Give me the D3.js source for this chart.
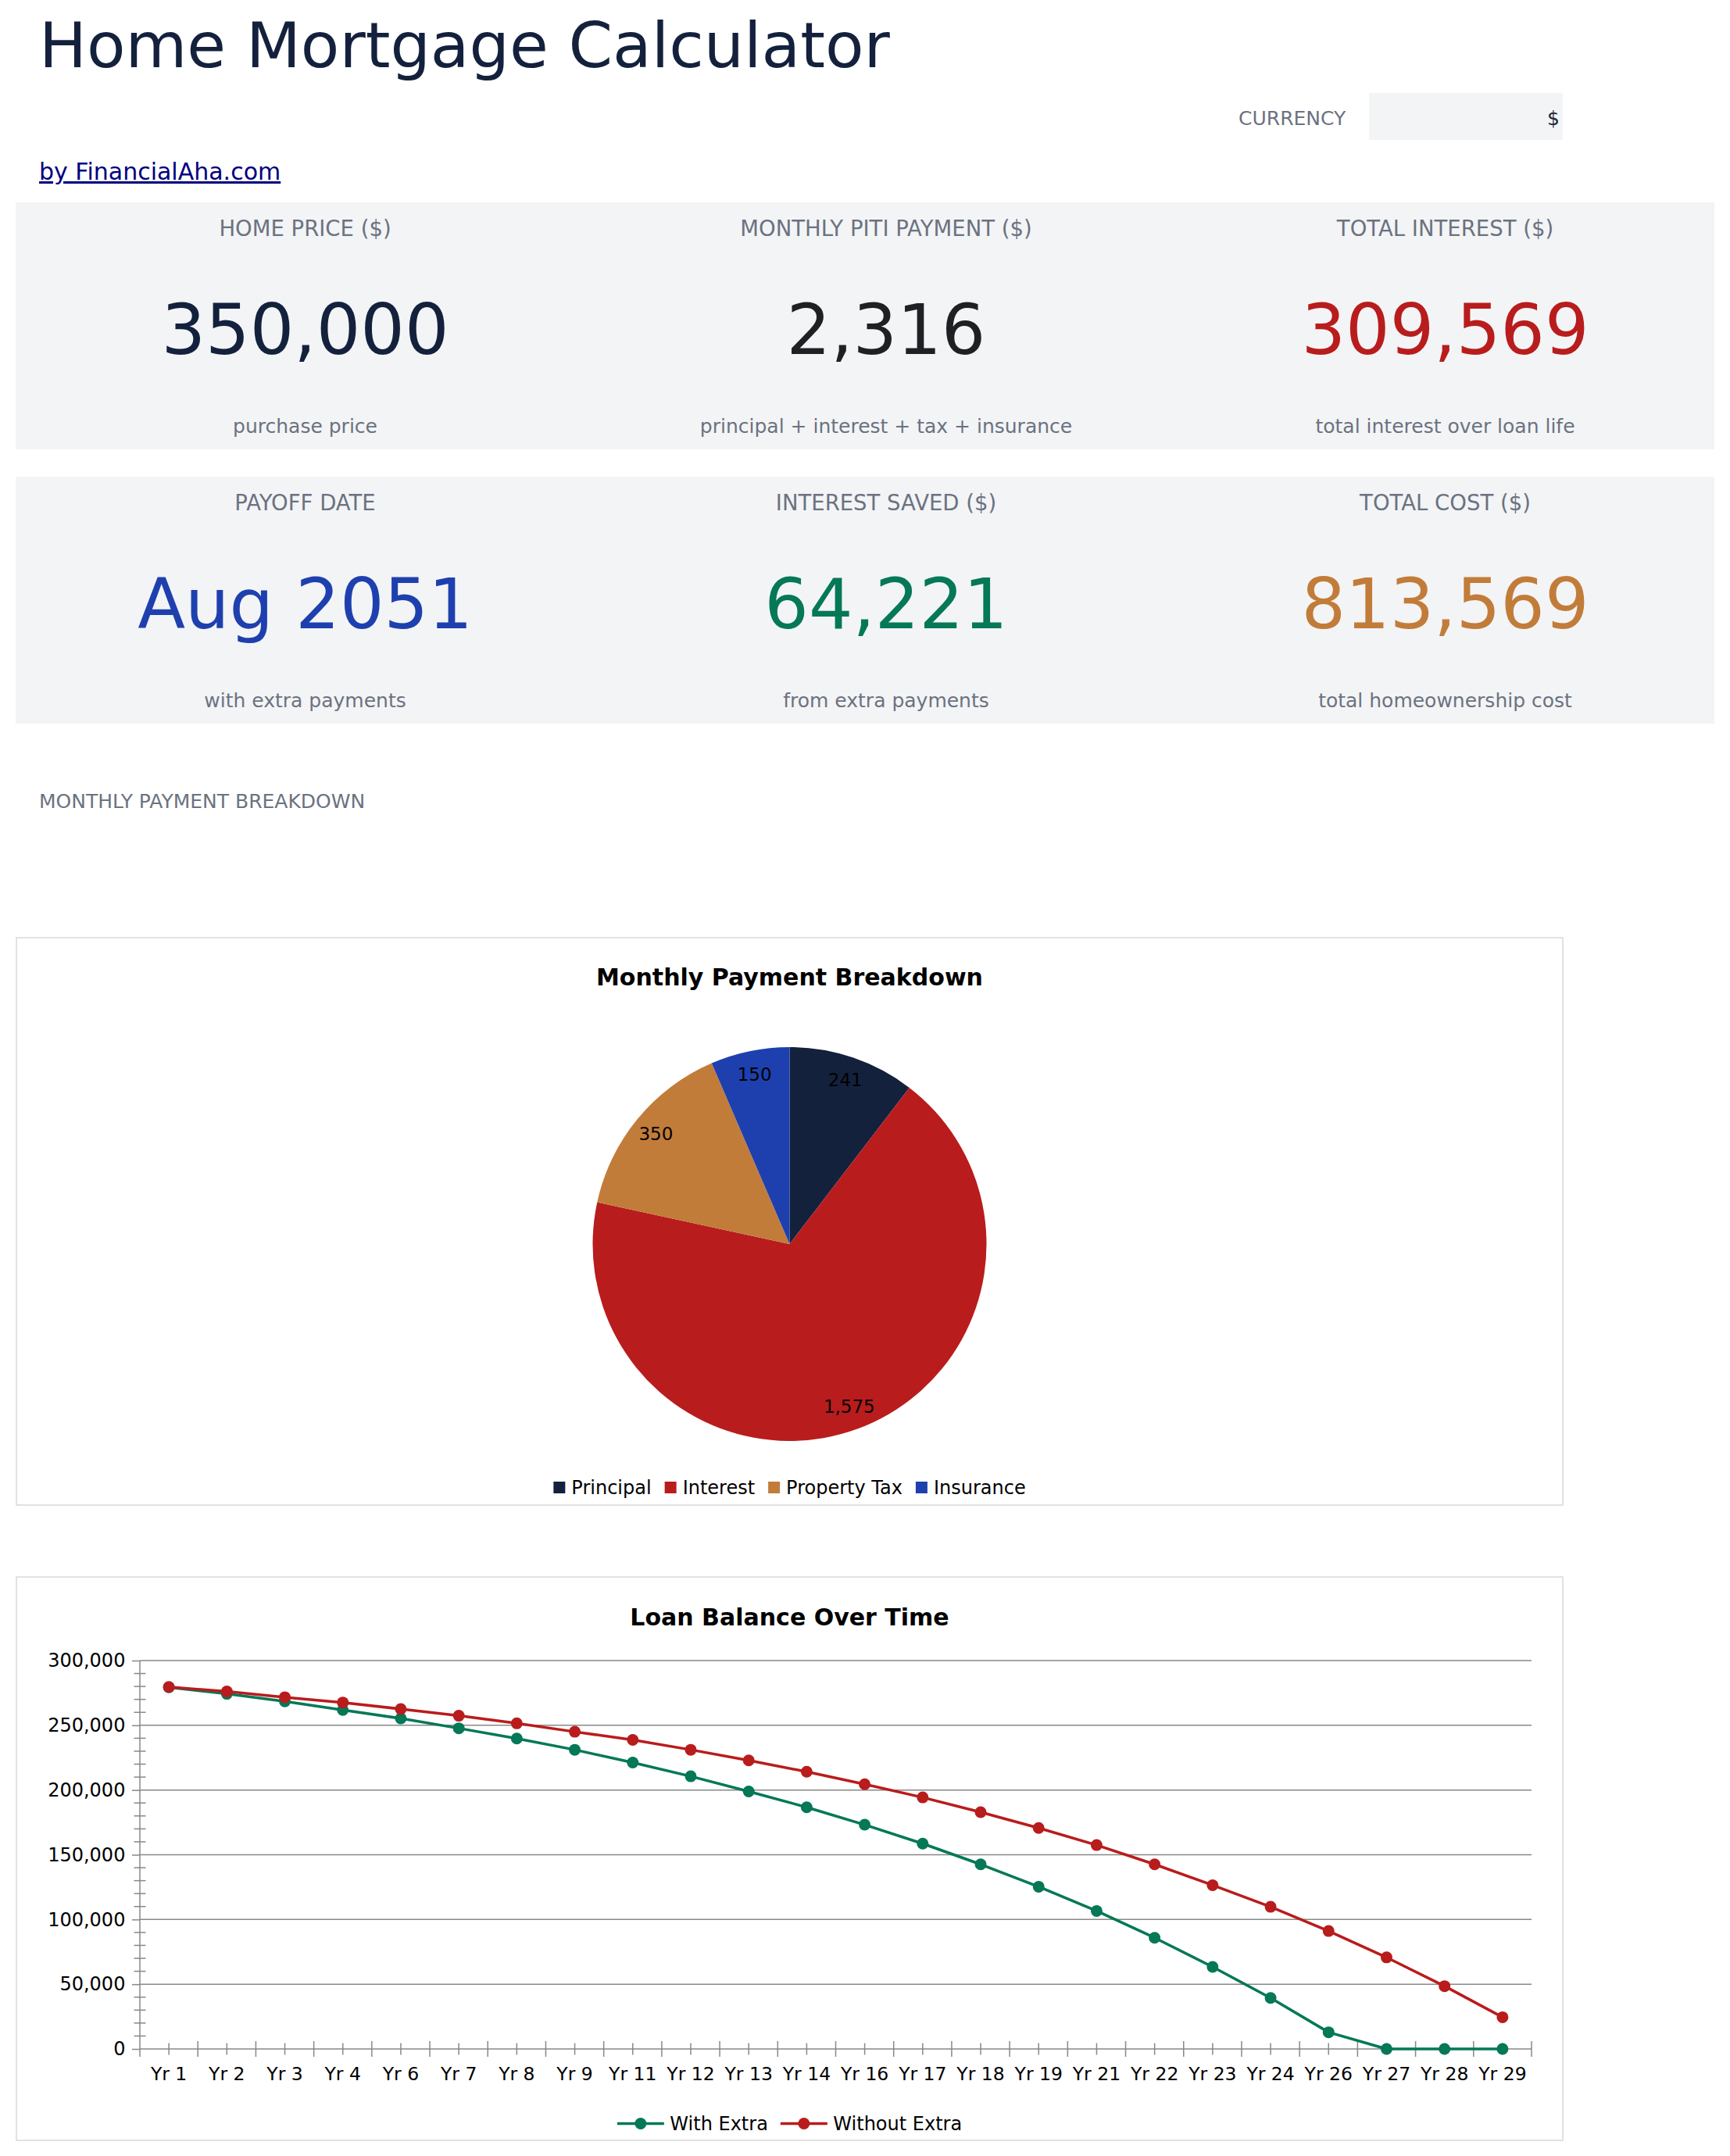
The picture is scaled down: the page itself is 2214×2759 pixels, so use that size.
<!DOCTYPE html>
<html>
<head>
<meta charset="utf-8">
<script src="https://cdn.jsdelivr.net/npm/d3@7"></script>
<style>
  html, body { margin: 0; padding: 0; background: #ffffff; }
  svg { display: block; font-family: "DejaVu Sans", sans-serif; }
</style>
</head>
<body>
<svg id="page" width="2214" height="2759"></svg>
<script>
// ---------------- DATA ----------------
const pageTitle = "Home Mortgage Calculator";
const linkText = "by FinancialAha.com";
const currencyLabel = "CURRENCY";
const currencySymbol = "$";

const kpiLabels = ["HOME PRICE ($)", "MONTHLY PITI PAYMENT ($)", "TOTAL INTEREST ($)",
                   "PAYOFF DATE", "INTEREST SAVED ($)", "TOTAL COST ($)"];
const kpiValues = ["350,000", "2,316", "309,569", "Aug 2051", "64,221", "813,569"];
const kpiSubs = ["purchase price", "principal + interest + tax + insurance", "total interest over loan life",
                 "with extra payments", "from extra payments", "total homeownership cost"];

const sectionLabel = "MONTHLY PAYMENT BREAKDOWN";

const pieTitle = "Monthly Payment Breakdown";
const pieCategories = ["Principal", "Interest", "Property Tax", "Insurance"];
const pieValues = [241, 1575, 350, 150];

const lineTitle = "Loan Balance Over Time";
const years = ["Yr 1","Yr 2","Yr 3","Yr 4","Yr 6","Yr 7","Yr 8","Yr 9","Yr 11","Yr 12","Yr 13","Yr 14",
               "Yr 16","Yr 17","Yr 18","Yr 19","Yr 21","Yr 22","Yr 23","Yr 24","Yr 26","Yr 27","Yr 28","Yr 29"];
const withExtra = [279300, 274300, 268500, 261800, 255300, 247700, 239800, 231100, 221200, 210600, 198900, 186700,
                   173200, 158600, 142600, 125300, 106600, 85900, 63400, 39400, 12900, 0, 0, 0];
const withoutExtra = [279600, 276100, 271700, 267600, 262600, 257400, 251500, 245000, 238700, 231100, 222900, 214100,
                      204500, 194300, 182900, 170700, 157500, 142600, 126500, 109800, 91100, 70700, 48500, 24500];
const seriesNames = ["With Extra", "Without Extra"];
const yTickValues = [0, 50000, 100000, 150000, 200000, 250000, 300000];

// ---------------- STYLES ----------------
const FONT = '"DejaVu Sans", sans-serif';
const gray = "#6b7280";
const cardBg = "#f3f4f6";
const kpiColors = ["#14213d", "#1f2024", "#b91c1c", "#1e40af", "#047857", "#c27c3a"];
const pieColors = ["#14213d", "#b91c1c", "#c27c3a", "#1e40af"];
const lineColors = ["#047857", "#b91c1c"];
const axisColor = "#888888";

const svg = d3.select("#page");

// ---------------- HEADER ----------------
svg.append("text").attr("x", 50).attr("y", 86)
  .attr("font-size", 81).attr("fill", "#14213d").text(pageTitle);

svg.append("text").attr("x", 1585).attr("y", 160)
  .attr("font-size", 25).attr("fill", gray).text(currencyLabel);
svg.append("rect").attr("x", 1752).attr("y", 119).attr("width", 248).attr("height", 60).attr("fill", cardBg);
svg.append("text").attr("x", 1996).attr("y", 160).attr("text-anchor", "end")
  .attr("font-size", 25).attr("fill", "#1f2937").text(currencySymbol);

svg.append("text").attr("x", 50).attr("y", 230)
  .attr("font-size", 30).attr("fill", "#000080")
  .attr("text-decoration", "underline").text(linkText);

// ---------------- KPI CARDS ----------------
const cardTops = [259, 610];
const colCenters = [390.5, 1134, 1849.5];
cardTops.forEach((top, r) => {
  svg.append("rect").attr("x", 20).attr("y", top).attr("width", 2174).attr("height", 316).attr("fill", cardBg);
  colCenters.forEach((cx, c) => {
    const i = r * 3 + c;
    svg.append("text").attr("x", cx).attr("y", top + 43).attr("text-anchor", "middle")
      .attr("font-size", 27.5).attr("fill", gray).text(kpiLabels[i]);
    svg.append("text").attr("x", cx).attr("y", top + 194).attr("text-anchor", "middle")
      .attr("font-size", 89).attr("fill", kpiColors[i]).text(kpiValues[i]);
    svg.append("text").attr("x", cx).attr("y", top + 295).attr("text-anchor", "middle")
      .attr("font-size", 25).attr("fill", gray).text(kpiSubs[i]);
  });
});

svg.append("text").attr("x", 50).attr("y", 1034)
  .attr("font-size", 25).attr("fill", gray).text(sectionLabel);

// ---------------- PIE CHART ----------------
const boxL = 21, boxR = 2000, boxCx = (boxL + boxR) / 2;
svg.append("rect").attr("x", boxL).attr("y", 1200).attr("width", boxR - boxL).attr("height", 726)
  .attr("fill", "#fff").attr("stroke", "#d9d9d9").attr("stroke-width", 1.5);
svg.append("text").attr("x", boxCx).attr("y", 1261).attr("text-anchor", "middle")
  .attr("font-size", 30).attr("font-weight", "bold").attr("fill", "#000").text(pieTitle);

const pieCx = 1010.5, pieCy = 1592, pieR = 252;
const pieData = pieCategories.map((c, i) => ({ cat: c, value: pieValues[i], color: pieColors[i] }));
const pie = d3.pie().sort(null).value(d => d.value);
const arc = d3.arc().innerRadius(0).outerRadius(pieR);
const labelArc = d3.arc().innerRadius(pieR * 0.88).outerRadius(pieR * 0.88);
const pg = svg.append("g").attr("transform", `translate(${pieCx},${pieCy})`);
const arcs = pie(pieData);
pg.selectAll("path.slice").data(arcs).join("path").attr("class", "slice")
  .attr("d", arc).attr("fill", d => d.data.color);
pg.selectAll("text.lbl").data(arcs).join("text").attr("class", "lbl")
  .attr("transform", d => `translate(${labelArc.centroid(d)})`)
  .attr("text-anchor", "middle").attr("dy", "0.36em")
  .attr("font-size", 23).attr("fill", "#000")
  .text(d => d3.format(",")(d.data.value));

// pie legend
(function () {
  const lg = svg.append("g");
  const items = lg.selectAll("g").data(pieData).join("g");
  items.append("rect").attr("width", 15).attr("height", 15).attr("y", -7.5).attr("fill", d => d.color);
  items.append("text").attr("x", 23).attr("dy", "0.36em").attr("font-size", 24).attr("fill", "#000").text(d => d.cat);
  let x = 0;
  items.each(function () {
    const w = 23 + this.querySelector("text").getComputedTextLength();
    d3.select(this).attr("transform", `translate(${x},0)`);
    x += w + 17;
  });
  const total = x - 17;
  lg.attr("transform", `translate(${boxCx - total / 2},1903.5)`);
})();

// ---------------- LINE CHART ----------------
svg.append("rect").attr("x", boxL).attr("y", 2018).attr("width", boxR - boxL).attr("height", 721)
  .attr("fill", "#fff").attr("stroke", "#d9d9d9").attr("stroke-width", 1.5);
svg.append("text").attr("x", boxCx).attr("y", 2080).attr("text-anchor", "middle")
  .attr("font-size", 30).attr("font-weight", "bold").attr("fill", "#000").text(lineTitle);

const plotL = 179, plotR = 1960, plotT = 2125, plotB = 2622;
const x = d3.scaleBand().domain(years).range([plotL, plotR]).padding(0);
const y = d3.scaleLinear().domain([0, 300000]).range([plotB, plotT]);

// gridlines
svg.append("g").selectAll("line").data(yTickValues.filter(v => v > 0)).join("line")
  .attr("x1", plotL).attr("x2", plotR).attr("y1", d => y(d)).attr("y2", d => y(d))
  .attr("stroke", axisColor).attr("stroke-width", 1.5);

// y axis (major)
const yAxis = d3.axisLeft(y).tickValues(yTickValues).tickSize(10).tickPadding(8.6)
  .tickFormat(d3.format(","));
const yg = svg.append("g").attr("transform", `translate(${plotL},0)`).call(yAxis);
yg.select(".domain").remove();
yg.selectAll(".tick line").attr("stroke", axisColor).attr("stroke-width", 1.5);
yg.selectAll(".tick text").attr("font-size", 24).attr("font-family", FONT).attr("fill", "#000");
// y minor ticks
const yMinor = d3.range(10000, 300000, 10000).filter(v => v % 50000 !== 0);
svg.append("g").selectAll("line").data(yMinor).join("line")
  .attr("x1", plotL - 7.5).attr("x2", plotL + 7.5).attr("y1", d => y(d)).attr("y2", d => y(d))
  .attr("stroke", axisColor).attr("stroke-width", 1.5);
// y axis line
svg.append("line").attr("x1", plotL).attr("x2", plotL).attr("y1", plotT).attr("y2", plotB + 10)
  .attr("stroke", axisColor).attr("stroke-width", 1.5);

// x axis line
svg.append("line").attr("x1", plotL).attr("x2", plotR).attr("y1", plotB).attr("y2", plotB)
  .attr("stroke", axisColor).attr("stroke-width", 1.5);
// x major ticks at band boundaries
const bounds = years.map(c => x(c)).concat([plotR]).slice(1);
svg.append("g").selectAll("line").data(bounds).join("line")
  .attr("x1", d => d).attr("x2", d => d).attr("y1", plotB - 10).attr("y2", plotB + 10)
  .attr("stroke", axisColor).attr("stroke-width", 1.5);
// x minor ticks at band centres
const xAxis = d3.axisBottom(x).tickSize(7.5).tickPadding(0);
const xg = svg.append("g").attr("transform", `translate(0,${plotB})`).call(xAxis);
xg.select(".domain").remove();
xg.selectAll(".tick line").attr("y1", -7.5).attr("stroke", axisColor).attr("stroke-width", 1.5);
xg.selectAll(".tick text").attr("font-size", 23.5).attr("font-family", FONT).attr("fill", "#000")
  .attr("y", 40).attr("dy", 0);

// series
const series = [withExtra, withoutExtra];
const lineGen = d3.line().x((d, i) => x(years[i]) + x.bandwidth() / 2).y(d => y(d));
series.forEach((vals, s) => {
  const g = svg.append("g");
  g.append("path").datum(vals).attr("d", lineGen).attr("fill", "none")
    .attr("stroke", lineColors[s]).attr("stroke-width", 3.5).attr("stroke-linejoin", "round");
  g.selectAll("circle").data(vals).join("circle")
    .attr("cx", (d, i) => x(years[i]) + x.bandwidth() / 2).attr("cy", d => y(d))
    .attr("r", 7.5).attr("fill", lineColors[s]);
});

// line legend
(function () {
  const lg = svg.append("g");
  const items = lg.selectAll("g").data(seriesNames).join("g");
  items.append("line").attr("x1", 0).attr("x2", 60).attr("stroke", (d, i) => lineColors[i]).attr("stroke-width", 3.5);
  items.append("circle").attr("cx", 30).attr("r", 7.5).attr("fill", (d, i) => lineColors[i]);
  items.append("text").attr("x", 67.5).attr("dy", "0.36em").attr("font-size", 24).attr("fill", "#000").text(d => d);
  let xx = 0;
  items.each(function () {
    const w = 67.5 + this.querySelector("text").getComputedTextLength();
    d3.select(this).attr("transform", `translate(${xx},0)`);
    xx += w + 16;
  });
  const total = xx - 16;
  lg.attr("transform", `translate(${boxCx - total / 2},2717.5)`);
})();
</script>
</body>
</html>
